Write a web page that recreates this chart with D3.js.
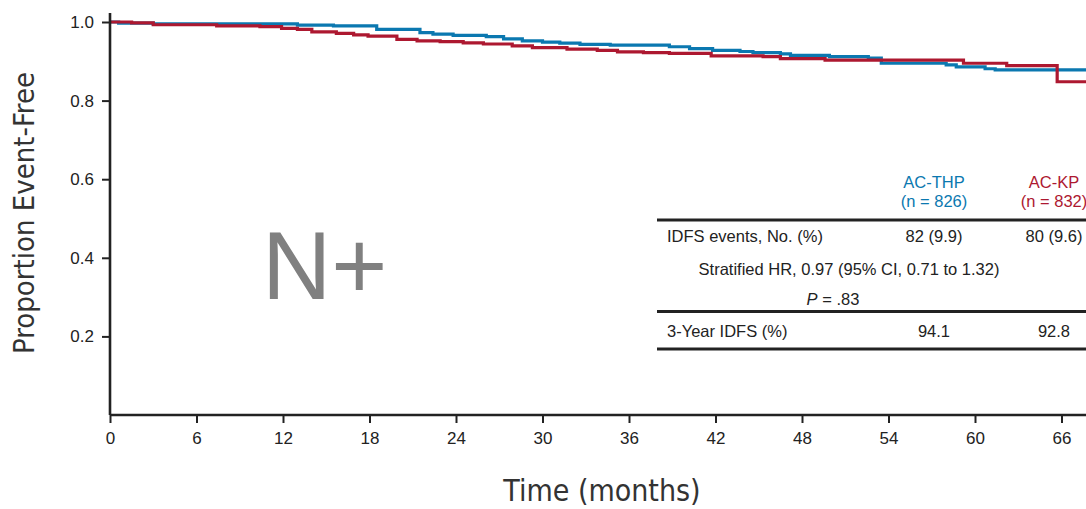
<!DOCTYPE html>
<html>
<head>
<meta charset="utf-8">
<script src="https://cdn.jsdelivr.net/npm/d3@7"></script>
<style>
  body { margin: 0; background: #fff; }
  svg { display: block; }
</style>
</head>
<body>
<svg id="km"></svg>
<script>
// Kaplan-Meier step values
var timesTHP = [0, 0.6, 3.0, 13.0, 15.5, 18.5, 21.5, 22.4, 23.8, 26.1, 27.3, 28.6, 30.0, 31.2, 32.6, 34.7, 38.8, 40.2, 41.8, 43.7, 44.6, 46.5, 47.2, 49.9, 52.6, 53.5, 58.0, 58.7, 60.7, 61.4, 70];
var survTHP  = [1.0, 0.997, 0.995, 0.992, 0.990, 0.981, 0.973, 0.969, 0.966, 0.963, 0.957, 0.952, 0.949, 0.946, 0.943, 0.941, 0.937, 0.932, 0.928, 0.925, 0.922, 0.919, 0.915, 0.912, 0.908, 0.895, 0.891, 0.886, 0.881, 0.878, 0.878];

var timesKP = [0, 1.5, 3.0, 7.4, 10.4, 11.9, 13.0, 14.0, 15.7, 16.9, 17.9, 19.9, 21.3, 22.9, 24.5, 25.9, 27.9, 29.3, 31.7, 33.8, 35.2, 37.0, 38.8, 41.7, 45.3, 46.5, 49.6, 59.2, 62.2, 65.7, 70];
var survKP  = [1.0, 0.998, 0.993, 0.990, 0.988, 0.984, 0.981, 0.975, 0.971, 0.967, 0.964, 0.956, 0.952, 0.950, 0.947, 0.944, 0.939, 0.935, 0.931, 0.928, 0.924, 0.922, 0.920, 0.914, 0.912, 0.907, 0.903, 0.895, 0.889, 0.848, 0.848];

var xTicks = [0, 6, 12, 18, 24, 30, 36, 42, 48, 54, 60, 66];
var yTicks = [0.2, 0.4, 0.6, 0.8, 1.0];

var armNames = ["AC-THP", "AC-KP"];
var armN = ["(n = 826)", "(n = 832)"];
var idfsEvents = ["82 (9.9)", "80 (9.6)"];
var idfs3yr = ["94.1", "92.8"];

var W = 1086, H = 509;
var blue = "#0b78b0", red = "#ad1830", ink = "#222";
var narrow = "'Liberation Sans Narrow', 'DejaVu Sans Condensed', 'Roboto Condensed', sans-serif";
var plain = "'Liberation Sans', Arial, sans-serif";

var svg = d3.select("#km").attr("width", W).attr("height", H);

var x = d3.scaleLinear().domain([0, 66]).range([110, 1061.5]);
var y = d3.scaleLinear().domain([0, 1]).range([415, 22]);

// curves
var line = d3.line()
    .x(function (d) { return x(d[0]); })
    .y(function (d) { return y(d[1]); })
    .curve(d3.curveStepAfter);

svg.append("path")
    .datum(d3.zip(timesTHP, survTHP))
    .attr("d", line)
    .attr("fill", "none")
    .attr("stroke", blue)
    .attr("stroke-width", 3.2);

svg.append("path")
    .datum(d3.zip(timesKP, survKP))
    .attr("d", line)
    .attr("fill", "none")
    .attr("stroke", red)
    .attr("stroke-width", 3.2);

// axes
var xAxis = svg.append("g")
    .attr("transform", "translate(0,415)")
    .call(d3.axisBottom(x).tickValues(xTicks).tickSize(8).tickPadding(9).tickSizeOuter(0));
xAxis.select(".domain").attr("d", "M110,0H" + W);

var yAxis = svg.append("g")
    .attr("transform", "translate(110,0)")
    .call(d3.axisLeft(y).tickValues(yTicks).tickFormat(d3.format(".1f")).tickSize(8).tickPadding(8).tickSizeOuter(0));
yAxis.select(".domain").attr("d", "M0,13V415");

svg.selectAll(".domain").attr("stroke", ink).attr("stroke-width", 2.6);
svg.selectAll(".tick line").attr("stroke", ink).attr("stroke-width", 2);
svg.selectAll(".tick text")
    .attr("fill", ink)
    .style("font-family", plain)
    .style("font-size", "17px");

// axis titles
svg.append("text")
    .attr("transform", "translate(34,213) rotate(-90)")
    .attr("text-anchor", "middle")
    .style("font-family", narrow)
    .style("font-size", "29px")
    .attr("fill", "#333")
    .text("Proportion Event-Free");

svg.append("text")
    .attr("x", 602)
    .attr("y", 501)
    .attr("text-anchor", "middle")
    .style("font-family", narrow)
    .style("font-size", "30px")
    .attr("fill", "#333")
    .text("Time (months)");

// panel label
svg.append("text")
    .attr("x", 262)
    .attr("y", 299)
    .style("font-family", plain)
    .style("font-size", "96px")
    .attr("fill", "#808080")
    .text("N+");

// summary table
var colX = [934, 1054];
var tbl = svg.append("g")
    .style("font-family", plain)
    .style("font-size", "16.5px");

[blue, red].forEach(function (c, i) {
    tbl.append("text").attr("x", colX[i]).attr("y", 188).attr("text-anchor", "middle")
        .attr("fill", c).text(armNames[i]);
    tbl.append("text").attr("x", colX[i]).attr("y", 207).attr("text-anchor", "middle")
        .attr("fill", c).text(armN[i]);
    tbl.append("text").attr("x", colX[i]).attr("y", 242).attr("text-anchor", "middle")
        .attr("fill", ink).text(idfsEvents[i]);
    tbl.append("text").attr("x", colX[i]).attr("y", 337).attr("text-anchor", "middle")
        .attr("fill", ink).text(idfs3yr[i]);
});

tbl.append("text").attr("x", 667).attr("y", 242).attr("fill", ink).text("IDFS events, No. (%)");
tbl.append("text").attr("x", 849).attr("y", 275).attr("text-anchor", "middle").attr("fill", ink)
    .text("Stratified HR, 0.97 (95% CI, 0.71 to 1.32)");
var p = tbl.append("text").attr("x", 833).attr("y", 305).attr("text-anchor", "middle").attr("fill", ink);
p.append("tspan").style("font-style", "italic").text("P");
p.append("tspan").text(" = .83");
tbl.append("text").attr("x", 667).attr("y", 337).attr("fill", ink).text("3-Year IDFS (%)");

[220, 311.5, 349].forEach(function (ly) {
    tbl.append("line")
        .attr("x1", 657).attr("x2", W)
        .attr("y1", ly).attr("y2", ly)
        .attr("stroke", ink)
        .attr("stroke-width", 3);
});
</script>
</body>
</html>
